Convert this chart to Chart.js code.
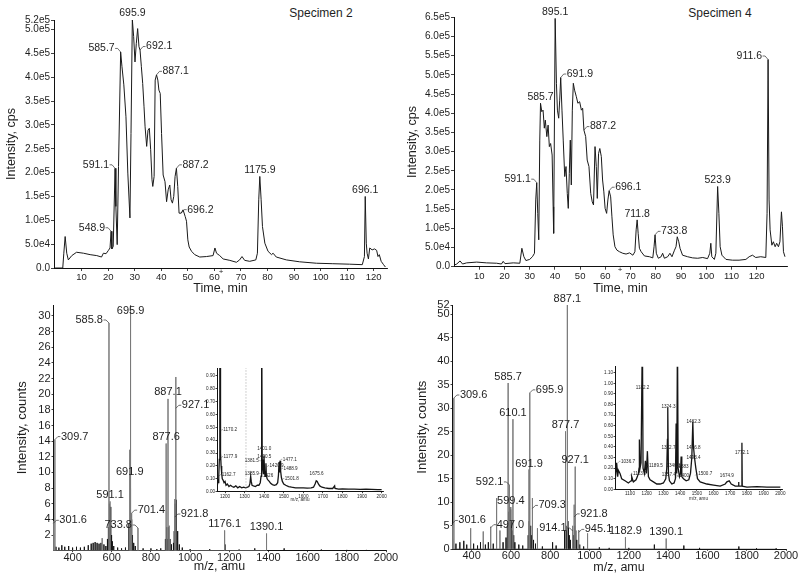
<!DOCTYPE html>
<html>
<head>
<meta charset="utf-8">
<script src="https://cdn.jsdelivr.net/npm/chart.js@4.4.1/dist/chart.umd.min.js"></script>
<style>
  html, body { margin: 0; padding: 0; background: #fff; }
  #fig { position: relative; width: 800px; height: 579px; overflow: hidden; background: #fff; }
  #fig canvas { position: absolute; }
  .spec { position: absolute; font: 12px "Liberation Sans", Arial, sans-serif; color: #1e1e1e; transform: translate(-50%, -50%); white-space: nowrap; }
</style>
</head>
<body>
<div id="fig">
  <div class="spec" style="left:321px;top:13px">Specimen 2</div>
  <div class="spec" style="left:720px;top:13px">Specimen 4</div>
</div>
<script>
// ============================================================
// DATA
// ============================================================

// Total ion chromatogram, specimen 2: [time min, intensity cps]
var chromA = [
  [0,0],[2.9,0],[3.3,0.31e5],[3.8,0.66e5],[4.4,0.31e5],[5.0,0.17e5],[6.3,0.26e5],[8.1,0.33e5],
  [10.7,0.31e5],[13.2,0.28e5],[15.7,0.26e5],[17.5,0.23e5],[18.2,0.31e5],[19.2,0.30e5],[20.1,0.37e5],
  [20.7,0.42e5],[21.1,0.77e5],[21.4,0.40e5],[21.9,0.45e5],[22.6,2.09e5],[22.9,1.29e5],[23.4,0.49e5],
  [23.9,2.13e5],[24.7,4.53e5],[25.2,4.22e5],[25.9,3.84e5],[26.7,3.17e5],[27.4,1.99e5],[28.2,1.05e5],
  [28.6,2.82e5],[29.1,5.21e5],[29.6,4.85e5],[30.1,4.32e5],[30.6,4.71e5],[31.1,5.02e5],[31.6,4.64e5],
  [32.0,4.57e5],[32.5,4.22e5],[33.0,3.87e5],[33.5,3.38e5],[33.9,2.96e5],[34.5,2.55e5],[35.0,2.89e5],
  [35.5,2.93e5],[36.0,2.48e5],[36.5,1.85e5],[36.8,1.71e5],[37.3,1.92e5],[37.7,3.94e5],[38.2,4.05e5],
  [38.7,3.94e5],[39.1,3.73e5],[39.6,3.66e5],[40.1,2.82e5],[40.7,1.95e5],[41.4,1.81e5],[42.0,1.39e5],
  [42.6,1.64e5],[43.2,1.74e5],[43.7,1.43e5],[44.2,1.36e5],[44.7,1.50e5],[45.2,1.92e5],[45.7,2.09e5],
  [46.2,1.71e5],[46.7,1.15e5],[47.5,1.15e5],[48.2,1.22e5],[49.0,1.08e5],[49.5,0.98e5],[50.0,0.59e5],
  [50.5,0.44e5],[51.4,0.35e5],[52.6,0.28e5],[54.5,0.23e5],[57.0,0.24e5],[59.5,0.26e5],[60.2,0.42e5],
  [60.8,0.31e5],[62.0,0.26e5],[63.3,0.19e5],[65.8,0.16e5],[68.3,0.12e5],[69.5,0.17e5],[70.4,0.24e5],
  [71.4,0.16e5],[73.3,0.14e5],[75.6,0.17e5],[76.2,0.31e5],[76.7,1.43e5],[77.1,1.92e5],[77.6,1.43e5],
  [78.1,0.87e5],[79.0,0.52e5],[80.2,0.35e5],[81.5,0.28e5],[82.1,0.31e5],[83.3,0.23e5],[87.1,0.17e5],
  [92.1,0.13e5],[98.4,0.10e5],[104.6,0.09e5],[110.9,0.08e5],[115.7,0.07e5],[116.5,0.24e5],[116.8,1.50e5],
  [117.2,0.52e5],[117.5,0.31e5],[118.0,0.19e5],[118.5,0.42e5],[119.4,0.38e5],[120.3,0.40e5],[121.1,0.37e5],
  [121.6,0.24e5],[122.1,0.28e5],[122.8,0.14e5],[123.7,0.07e5],[124.4,0.02e5]
];

// Total ion chromatogram, specimen 4: [time min, intensity cps]
var chromB = [
  [0,0.04e5],[1.1,0.07e5],[2.4,0.15e5],[3.4,0.07e5],[5.0,0.10e5],[9.0,0.12e5],[12.9,0.10e5],[16.9,0.09e5],
  [18.8,0.07e5],[19.5,0.14e5],[20.2,0.08e5],[23.5,0.10e5],[26.1,0.09e5],[26.9,0.48e5],[27.7,0.26e5],
  [28.5,0.16e5],[30.0,0.19e5],[31.1,0.26e5],[31.9,0.35e5],[32.4,1.74e5],[32.8,2.19e5],[33.2,1.39e5],
  [33.6,0.70e5],[34.0,3.30e5],[34.3,4.26e5],[34.8,4.04e5],[35.3,4.08e5],[35.8,3.61e5],[36.2,3.82e5],
  [36.8,3.39e5],[37.3,3.69e5],[37.8,3.13e5],[38.3,3.21e5],[38.9,2.91e5],[39.3,1.56e5],[39.5,0.87e5],
  [40.1,6.47e5],[40.6,4.78e5],[41.0,4.08e5],[41.5,3.87e5],[41.9,4.34e5],[42.3,4.93e5],[42.8,4.08e5],
  [43.3,3.30e5],[43.9,2.35e5],[44.4,2.61e5],[44.9,1.91e5],[45.3,1.52e5],[45.7,2.43e5],[46.1,3.30e5],
  [46.5,2.13e5],[46.9,4.08e5],[47.3,4.78e5],[47.8,4.60e5],[48.5,4.43e5],[49.1,4.26e5],[49.8,4.30e5],
  [50.5,4.08e5],[51.0,4.13e5],[51.5,3.56e5],[52.2,3.39e5],[52.8,2.78e5],[53.5,2.61e5],[54.2,1.91e5],
  [54.8,1.69e5],[55.3,1.61e5],[55.9,3.13e5],[56.4,2.61e5],[56.8,1.78e5],[57.3,2.95e5],[57.8,3.08e5],
  [58.4,2.87e5],[58.9,2.26e5],[59.4,1.95e5],[59.9,1.52e5],[60.5,1.39e5],[61.0,1.74e5],[61.5,1.98e5],
  [62.1,1.82e5],[62.6,1.30e5],[63.1,0.83e5],[63.8,0.52e5],[64.6,0.43e5],[65.6,0.39e5],[66.9,0.35e5],
  [68.2,0.33e5],[69.6,0.36e5],[70.9,0.30e5],[71.7,0.39e5],[72.2,0.96e5],[72.6,1.22e5],[73.0,0.87e5],
  [73.5,0.48e5],[74.2,0.39e5],[75.5,0.28e5],[77.5,0.26e5],[78.8,0.23e5],[79.3,0.52e5],[79.7,0.83e5],
  [80.2,0.35e5],[81.0,0.22e5],[82.1,0.26e5],[82.7,0.35e5],[83.4,0.22e5],[84.7,0.26e5],[85.6,0.35e5],
  [86.4,0.26e5],[87.4,0.43e5],[88.0,0.52e5],[88.5,0.78e5],[89.1,0.65e5],[89.6,0.48e5],[90.6,0.30e5],
  [92.6,0.26e5],[94.6,0.23e5],[96.6,0.22e5],[98.6,0.24e5],[100.5,0.21e5],[101.4,0.35e5],[101.8,0.61e5],
  [102.2,0.26e5],[103.2,0.19e5],[103.8,0.35e5],[104.5,2.09e5],[105.0,1.39e5],[105.5,0.52e5],[106.2,0.30e5],
  [107.8,0.19e5],[110.4,0.17e5],[113.0,0.17e5],[115.7,0.19e5],[117.0,0.26e5],[118.3,0.30e5],[119.6,0.24e5],
  [121.6,0.26e5],[123.6,0.24e5],[124.1,1.39e5],[124.5,5.40e5],[124.9,1.74e5],[125.3,0.96e5],[126.0,0.56e5],
  [126.6,0.65e5],[127.3,0.52e5],[127.9,0.61e5],[128.6,0.52e5],[129.2,0.65e5],[129.8,1.43e5],[130.2,1.04e5],
  [130.6,0.39e5],[131.2,0.26e5]
];

// Mass spectrum, specimen 2: [m/z, counts] — tall (grey) lines and low cluster/grass (black)
var specA_main = [
  [301.6,3.8],[309.7,14.2],[551,1.6],[585.8,29.1],[591.1,6.3],[691.9,12.9],[695.9,31.4],[701.4,4.8],
  [733.8,2.9],[877.6,13.7],[887.1,19.4],[893,3.2],[921.8,6.6],[927.1,22.2],[1176.1,2.6],[1390.1,2.2]
];
var specA_low = [
  [303,2.2],[315,0.5],[330,0.4],[345,0.7],[360,0.5],[380,0.6],[400,0.4],[420,0.5],[440,0.4],[460,0.5],
  [480,0.7],[495,0.9],[505,1.0],[515,1.1],[525,1.0],[535,0.9],[545,1.0],[560,0.8],[570,0.6],[578,1.5],
  [583,3.0],[587,6.0],[589,4.5],[593,5.6],[596,3.5],[599,2.0],[603,1.2],[610,0.6],[630,0.4],[650,0.3],
  [670,0.4],[688,3.5],[694,8.0],[697,7.0],[699,4.0],[703,3.0],[706,2.0],[712,1.0],[720,0.6],[760,0.3],
  [800,0.3],[830,0.2],[850,0.3],[874,1.5],[880,3.0],[884,1.5],[889,3.0],[897,1.5],[905,0.8],[915,1.0],
  [919,2.5],[924,6.0],[929,6.5],[931,4.0],[934,2.5],[938,1.5],[945,0.8],[960,0.4],[1000,0.2],[1100,0.2],
  [1178,0.8],[1250,0.15],[1330,0.3],[1480,0.3],[1670,0.15],[1800,0.1],[1900,0.1]
];

// Mass spectrum, specimen 4: [m/z, counts]
var specB_main = [
  [301.6,5.2],[309.6,32.2],[395,4.5],[459,3.8],[497,4.8],[527,10.9],[544,4.0],[585.7,35.4],[592.1,13.7],
  [599.4,9.0],[610.1,27.7],[691.9,17.0],[695.9,33.3],[709.3,10.9],[735,4.5],[877.7,25.1],[887.1,52.0],
  [914.1,5.0],[921.8,9.5],[927.1,17.6],[945.1,4.1],[990,3.4],[1182.9,2.6],[1390.1,2.3]
];
var specB_low = [
  [303,2.3],[320,1.2],[340,1.5],[360,1.8],[375,1.0],[410,1.2],[430,0.8],[445,1.5],[470,1.0],[485,1.5],
  [510,1.2],[560,1.5],[575,2.5],[582,5.0],[588,8.0],[590,6.0],[594,9.0],[596,7.0],[600,8.5],[603,6.0],
  [606,4.0],[614,3.0],[620,1.5],[640,1.0],[660,0.8],[688,3.0],[693,6.0],[698,5.0],[702,4.5],[706,3.0],
  [715,2.0],[725,1.2],[760,0.6],[812,1.5],[830,0.8],[873,4.0],[880,5.0],[884,4.0],[890,6.0],[893,4.5],
  [897,3.0],[903,2.0],[918,3.0],[924,5.0],[930,4.0],[935,2.0],[950,1.0],[970,0.6],[1050,0.4],[1100,0.3],
  [1200,0.3],[1330,1.0],[1480,0.8],[1560,0.3],[1760,0.6],[1850,0.2],[1950,0.2]
];

// Inset zoom of specimen 2 spectrum (m/z 1160–2000): [m/z, counts]
var insetA = [
  [1159,0.06],[1162,0.09],[1165,0.07],[1168,0.12],[1171,0.25],[1173,0.5],[1174,1.5],[1175,0.45],[1176,1.5],
  [1177,0.55],[1178,0.3],[1180,0.2],[1183,0.14],[1186,0.1],[1190,0.09],[1195,0.07],[1200,0.08],[1205,0.05],
  [1212,0.06],[1220,0.04],[1228,0.05],[1236,0.04],[1245,0.035],[1255,0.045],[1265,0.03],[1275,0.04],
  [1285,0.03],[1295,0.035],[1305,0.03],[1315,0.035],[1322,0.04],[1327,0.06],[1331,0.12],[1334,0.08],
  [1338,0.05],[1345,0.045],[1355,0.04],[1365,0.05],[1373,0.05],[1380,0.07],[1384,0.12],[1386,0.22],
  [1388,1.5],[1390,0.25],[1393,0.18],[1396,0.14],[1399,0.28],[1402,0.16],[1405,0.12],[1409,0.22],
  [1411,0.13],[1415,0.1],[1420,0.09],[1426,0.08],[1433,0.065],[1442,0.055],[1452,0.05],[1462,0.055],
  [1469,0.07],[1473,0.13],[1476,0.23],[1478,0.15],[1481,0.24],[1484,0.16],[1488,0.11],[1493,0.08],
  [1500,0.06],[1510,0.05],[1525,0.04],[1540,0.035],[1560,0.03],[1580,0.03],[1600,0.03],[1620,0.028],
  [1640,0.03],[1652,0.035],[1660,0.06],[1666,0.085],[1671,0.08],[1677,0.06],[1684,0.045],[1695,0.035],
  [1710,0.03],[1730,0.025],[1750,0.025],[1760,0.045],[1762,0.025],[1780,0.02],[1800,0.022],[1830,0.02],
  [1860,0.02],[1890,0.018],[1920,0.02],[1950,0.018],[1980,0.016],[2000,0.016]
];
var insetA_cut = 1307;   // dotted marker line in the inset

// Inset zoom of specimen 4 spectrum (m/z 1010–2000)
var insetB = [
  [1010,0.06],[1020,0.25],[1026,0.12],[1030,0.18],[1040,0.15],[1050,0.1],[1070,0.08],[1090,0.06],
  [1106,0.08],[1110,0.12],[1120,0.07],[1136,0.09],[1144,0.12],[1150,0.15],[1154,0.2],[1156,0.47],
  [1160,0.2],[1166,0.25],[1174,1.5],[1178,0.2],[1186,0.15],[1192,0.27],[1198,0.15],[1204,0.36],
  [1210,0.12],[1220,0.09],[1240,0.07],[1260,0.05],[1280,0.05],[1300,0.06],[1314,0.1],[1320,0.2],
  [1324,0.47],[1326,0.77],[1330,0.15],[1336,0.08],[1350,0.05],[1364,0.06],[1372,0.1],[1376,0.62],
  [1380,0.15],[1384,1.5],[1388,0.2],[1396,0.12],[1402,0.15],[1406,0.31],[1410,0.12],[1420,0.1],
  [1436,0.08],[1452,0.09],[1462,0.15],[1470,0.3],[1476,0.64],[1480,0.4],[1486,0.3],[1494,0.2],
  [1504,0.1],[1520,0.07],[1560,0.05],[1600,0.04],[1640,0.03],[1670,0.05],[1680,0.07],[1694,0.08],
  [1706,0.05],[1730,0.03],[1748,0.03],[1750,0.07],[1752,0.03],[1768,0.03],[1770,0.44],[1772,0.03],
  [1800,0.02],[1860,0.025],[1920,0.02],[2000,0.02]
];

// Peak annotations: [text, x, y at the point the label attaches to]
var labelsA = [
  ['695.9',29.1,5.21e5],['585.7',24.7,4.53e5],['692.1',32.0,4.57e5],['887.1',38.2,4.05e5],
  ['591.1',22.6,2.09e5],['887.2',45.7,2.09e5],['696.2',47.5,1.15e5],['548.9',21.1,0.77e5],
  ['1175.9',77.1,1.92e5],['696.1',116.8,1.50e5]
];
var sidesA = ['c','l','r','r','l','r','r','l','c','c'];

var labelsB = [
  ['895.1',40.1,6.47e5],['585.7',34.3,4.26e5],['691.9',42.3,4.93e5],['887.2',51.5,3.56e5],
  ['591.1',32.8,2.19e5],['696.1',61.5,1.98e5],['711.8',72.6,1.22e5],['733.8',79.7,0.83e5],
  ['523.9',104.5,2.09e5],['911.6',124.5,5.40e5]
];
var sidesB = ['c','c','r','r','l','r','c','r','c','l'];

var labelsC = [
  ['585.8',585.8,29.1],['695.9',695.9,29.8],['887.1',887.1,19.4],['927.1',927.1,18.2],
  ['877.6',877.6,13.7],['309.7',309.7,14.2],['691.9',691.9,9.2],['591.1',591.1,6.3],
  ['701.4',701.4,4.8],['921.8',921.8,4.3],['733.8',733.8,2.9],['301.6',301.6,3.5],
  ['1176.1',1176.1,2.6],['1390.1',1390.1,2.2]
];
var sidesC = ['l','c','c','r','c','r','c','c','r','r','l','r','c','c'];

var labelsD = [
  ['887.1',887.1,52],['585.7',585.7,35.4],['309.6',309.6,32.2],['695.9',695.9,33.3],
  ['610.1',610.1,27.7],['877.7',877.7,25.1],['927.1',927.1,17.6],['691.9',691.9,16.7],
  ['592.1',592.1,13.7],['599.4',599.4,8.8],['709.3',709.3,8.7],['921.8',921.8,6.9],
  ['301.6',301.6,5.5],['497.0',497.0,4.6],['914.1',914.1,3.9],['945.1',945.1,3.6],
  ['1182.9',1182.9,2.6],['1390.1',1390.1,2.3]
];
var sidesD = ['c','c','r','r','c','c','c','c','l','c','r','r','r','r','l','r','c','c'];

var labelsE = [
  ['1170.2',1176,0.47],['1177.9',1177,0.26],['1162.7',1168,0.12],['1381.5',1388,0.23],
  ['1385.9',1388,0.13],['1401.0',1400,0.31],['1400.5',1401,0.25],['1420.9',1412,0.19],
  ['1426',1420,0.10],['1477.1',1480,0.24],['1488.9',1484,0.17],['1501.8',1490,0.09],['1675.6',1668,0.12]
];
var sidesE = ['r','r','r','l','l','c','c','r','c','r','r','r','c'];

var labelsF = [
  ['1036.7',1028,0.25],['1123.7',1100,0.13],['1182.2',1175,0.93],['1189.5',1196,0.21],
  ['1324.3',1330,0.75],['1322.7',1330,0.37],['1346.1',1360,0.20],['1357.4',1392,0.12],
  ['1383',1372,0.20],['1400',1375,0.11],['1482.3',1480,0.61],['1476.8',1480,0.37],
  ['1493.4',1480,0.27],['1500.7',1490,0.13],['1674.9',1680,0.10],['1772.1',1770,0.32]
];
var sidesF = ['r','r','c','r','c','c','c','l','r','r','c','c','c','r','c','c'];

// Axis ticks and their labels
var timeTicks = [10,20,30,40,50,60,70,80,90,100,110,120];
var timeLabels = ['10','20','30','40','50','60','70','80','90','100','110','120'];
var cpsTicksA = [0,0.5e5,1e5,1.5e5,2e5,2.5e5,3e5,3.5e5,4e5,4.5e5,5e5,5.2e5];
var cpsLabelsA = ['0.0','5.0e4','1.0e5','1.5e5','2.0e5','2.5e5','3.0e5','3.5e5','4.0e5','4.5e5','5.0e5','5.2e5'];
var cpsTicksB = [0,0.5e5,1e5,1.5e5,2e5,2.5e5,3e5,3.5e5,4e5,4.5e5,5e5,5.5e5,6e5,6.5e5];
var cpsLabelsB = ['0.0','5.0e4','1.0e5','1.5e5','2.0e5','2.5e5','3.0e5','3.5e5','4.0e5','4.5e5','5.0e5','5.5e5','6.0e5','6.5e5'];
var mzTicks = [400,600,800,1000,1200,1400,1600,1800,2000];
var mzLabels = ['400','600','800','1000','1200','1400','1600','1800','2000'];
var countTicksC = [2,4,6,8,10,12,14,16,18,20,22,24,26,28,30];
var countLabelsC = ['2','4','6','8','10','12','14','16','18','20','22','24','26','28','30'];
var countTicksD = [0,5,10,15,20,25,30,35,40,45,50,52];
var countLabelsD = ['0','5','10','15','20','25','30','35','40','45','50','52'];
var insetTicksEx = [1200,1300,1400,1500,1600,1700,1800,1900,2000];
var insetLabelsEx = ['1200','1300','1400','1500','1600','1700','1800','1900','2000'];
var insetTicksEy = [0,0.1,0.2,0.3,0.4,0.5,0.6,0.7,0.8,0.9];
var insetLabelsEy = ['0.00','0.10','0.20','0.30','0.40','0.50','0.60','0.70','0.80','0.90'];
var insetTicksFx = [1100,1200,1300,1400,1500,1600,1700,1800,1900,2000];
var insetLabelsFx = ['1100','1200','1300','1400','1500','1600','1700','1800','1900','2000'];
var insetTicksFy = [0,0.1,0.2,0.3,0.4,0.5,0.6,0.7,0.8,0.9,1.0,1.1];
var insetLabelsFy = ['0.00','0.10','0.20','0.30','0.40','0.50','0.60','0.70','0.80','0.90','1.00','1.10'];

// small "+" marks under the time axes
var plusA = [62.5];
var plusB = [65.8];

// ============================================================
// HELPERS
// ============================================================

var FONT = '"Liberation Sans", Arial, Helvetica, sans-serif';
var INK = '#1e1e1e';

function toXY(list) {
  return list.map(function(p) { return { x: p[0], y: p[1] }; });
}

// vertical sticks joined along the baseline
function toSticks(list) {
  var pts = [];
  list.slice().sort(function(a, b) { return a[0] - b[0]; }).forEach(function(p) {
    pts.push({ x: p[0], y: 0 }, { x: p[0], y: p[1] }, { x: p[0], y: 0 });
  });
  return pts;
}

function lineSet(data, color, width, dash) {
  return { data: data, showLine: true, borderColor: color, borderWidth: width,
           borderDash: dash || [], pointRadius: 0, fill: false, tension: 0 };
}

function labelPlugin(items, sides, st) {
  return {
    id: 'peakLabels',
    afterDatasetsDraw: function(chart) {
      var ctx = chart.ctx, xs = chart.scales.x, ys = chart.scales.y;
      ctx.save();
      ctx.font = st.size + 'px ' + FONT;
      ctx.fillStyle = INK;
      ctx.strokeStyle = '#333';
      ctx.lineWidth = st.lw;
      items.forEach(function(it, i) {
        var px = xs.getPixelForValue(it[1]), py = ys.getPixelForValue(it[2]);
        var side = sides[i];
        if (side === 'c') {
          ctx.textAlign = 'center';
          ctx.textBaseline = 'bottom';
          ctx.fillText(it[0], px, py - st.lift);
        } else {
          var dir = side === 'l' ? -1 : 1;
          var ty = py - st.rise;
          ctx.textAlign = side === 'l' ? 'right' : 'left';
          ctx.textBaseline = 'middle';
          ctx.fillText(it[0], px + dir * st.gap, ty);
          ctx.beginPath();
          ctx.moveTo(px + dir * (st.gap - 0.5), ty);
          ctx.lineTo(px + dir * st.gap * 0.5, ty);
          ctx.lineTo(px, py);
          ctx.stroke();
        }
      });
      ctx.restore();
    }
  };
}

function plusPlugin(values) {
  return {
    id: 'plusMarks',
    afterDraw: function(chart) {
      var ctx = chart.ctx, xs = chart.scales.x;
      ctx.save();
      ctx.font = '8px ' + FONT;
      ctx.fillStyle = INK;
      ctx.textAlign = 'center';
      ctx.textBaseline = 'middle';
      values.forEach(function(v) {
        ctx.fillText('+', xs.getPixelForValue(v), chart.chartArea.bottom + 3.5);
      });
      ctx.restore();
    }
  };
}

function buildPanel(p) {
  var c = p.canvas, a = p.area;
  var cv = document.createElement('canvas');
  cv.width = c.w; cv.height = c.h;
  cv.style.left = c.x + 'px'; cv.style.top = c.y + 'px';
  cv.style.width = c.w + 'px'; cv.style.height = c.h + 'px';
  document.getElementById('fig').appendChild(cv);

  var yW = a.l - c.x, xH = c.y + c.h - a.b;
  var padTop = a.t - c.y, padRight = c.x + c.w - a.r;
  var xlh = p.xTitleSize * 1.2, ylh = (p.yTitleSize || 10) * 1.2;

  var plugins = [labelPlugin(p.labels, p.sides, p.labelStyle)];
  if (p.plus) plugins.push(plusPlugin(p.plus));

  return new Chart(cv, {
    type: 'scatter',
    data: { datasets: p.datasets },
    options: {
      responsive: false,
      animation: false,
      devicePixelRatio: 1,
      events: [],
      layout: { padding: { top: padTop, right: padRight, left: 0, bottom: 0 } },
      plugins: { legend: { display: false }, tooltip: { enabled: false } },
      scales: {
        x: {
          type: 'linear', min: p.xMin, max: p.xMax,
          afterFit: function(s) { s.height = xH; },
          afterBuildTicks: function(s) { s.ticks = p.xTicks.map(function(v) { return { value: v }; }); },
          ticks: { autoSkip: false, maxRotation: 0, minRotation: 0, padding: p.xTickPad, color: INK,
                   font: { family: FONT, size: p.xTickSize || p.tickSize },
                   callback: function(v, i) { return p.xLabels[i]; } },
          grid: { drawOnChartArea: false, drawTicks: true, tickLength: p.tickLen, color: '#111', lineWidth: 0.8 },
          border: { display: true, color: '#111', width: 1 },
          title: { display: true, text: p.xTitle, color: INK,
                   font: { family: FONT, size: p.xTitleSize },
                   padding: { top: 0, bottom: (c.y + c.h) - p.xTitleY - xlh / 2 } }
        },
        y: {
          type: 'linear', min: 0, max: p.yMax,
          afterFit: function(s) { s.width = yW; },
          afterBuildTicks: function(s) { s.ticks = p.yTicks.map(function(v) { return { value: v }; }); },
          ticks: { autoSkip: false, padding: p.yTickPad, color: INK,
                   font: { family: FONT, size: p.tickSize },
                   callback: function(v, i) { return p.yLabels[i]; } },
          grid: { drawOnChartArea: false, drawTicks: true, tickLength: p.tickLen, color: '#111', lineWidth: 0.8 },
          border: { display: true, color: '#111', width: 1 },
          title: { display: !!p.yTitle, text: p.yTitle || '', color: INK,
                   font: { family: FONT, size: p.yTitleSize || 10 },
                   padding: { top: (p.yTitleX || 0) - c.x - ylh / 2, bottom: 0 } }
        }
      }
    },
    plugins: plugins
  });
}

// ============================================================
// PANELS
// ============================================================

var chromLabelStyle = { size: 10.5, gap: 6, rise: 3.5, lift: 1, lw: 0.7 };
var specLabelStyle = { size: 11, gap: 6, rise: 3, lift: 1, lw: 0.7 };
var insetLabelStyle = { size: 4.6, gap: 3, rise: 1.5, lift: 0.5, lw: 0.4 };

buildPanel({
  canvas: { x: 0, y: 0, w: 400, h: 299 }, area: { l: 54, t: 20, r: 387, b: 268 },
  datasets: [lineSet(toXY(chromA), '#1a1a1a', 1)],
  xMin: -0.4, xMax: 125, xTicks: timeTicks, xLabels: timeLabels,
  yMax: 5.2e5, yTicks: cpsTicksA, yLabels: cpsLabelsA,
  tickSize: 10, xTickSize: 9.5, tickLen: 3, xTickPad: 1, yTickPad: 1,
  xTitle: 'Time, min', xTitleSize: 12.5, xTitleY: 289,
  yTitle: 'Intensity, cps', yTitleSize: 12.5, yTitleX: 12,
  labels: labelsA, sides: sidesA, labelStyle: chromLabelStyle, plus: plusA
});

buildPanel({
  canvas: { x: 400, y: 0, w: 400, h: 299 }, area: { l: 454, t: 17.3, r: 787, b: 266.7 },
  datasets: [lineSet(toXY(chromB), '#1a1a1a', 1)],
  xMin: 0, xMax: 132, xTicks: timeTicks, xLabels: timeLabels,
  yMax: 6.5e5, yTicks: cpsTicksB, yLabels: cpsLabelsB,
  tickSize: 10, xTickSize: 9.5, tickLen: 3, xTickPad: 1, yTickPad: 1,
  xTitle: 'Time, min', xTitleSize: 12.5, xTitleY: 288.5,
  yTitle: 'Intensity, cps', yTitleSize: 12.5, yTitleX: 413,
  labels: labelsB, sides: sidesB, labelStyle: chromLabelStyle, plus: plusB
});

buildPanel({
  canvas: { x: 0, y: 288, w: 400, h: 291 }, area: { l: 53, t: 305, r: 386, b: 550.7 },
  datasets: [lineSet(toSticks(specA_main), '#7a7a7a', 1), lineSet(toSticks(specA_low), '#151515', 1)],
  xMin: 300, xMax: 2000, xTicks: mzTicks, xLabels: mzLabels,
  yMax: 31.4, yTicks: countTicksC, yLabels: countLabelsC,
  tickSize: 11, tickLen: 1.5, xTickPad: -1, yTickPad: 1,
  xTitle: 'm/z, amu', xTitleSize: 12.5, xTitleY: 567,
  yTitle: 'Intensity, counts', yTitleSize: 13, yTitleX: 22,
  labels: labelsC, sides: sidesC, labelStyle: specLabelStyle
});

buildPanel({
  canvas: { x: 400, y: 288, w: 400, h: 291 }, area: { l: 452, t: 305, r: 786, b: 549.3 },
  datasets: [lineSet(toSticks(specB_main), '#7a7a7a', 1), lineSet(toSticks(specB_low), '#151515', 1)],
  xMin: 300, xMax: 2000, xTicks: mzTicks, xLabels: mzLabels,
  yMax: 52, yTicks: countTicksD, yLabels: countLabelsD,
  tickSize: 11, tickLen: 1.5, xTickPad: -1, yTickPad: 1,
  xTitle: 'm/z, amu', xTitleSize: 12.5, xTitleY: 568,
  yTitle: 'Intensity, counts', yTitleSize: 13, yTitleX: 422,
  labels: labelsD, sides: sidesD, labelStyle: specLabelStyle
});

buildPanel({
  canvas: { x: 200, y: 362, w: 195, h: 142 }, area: { l: 217, t: 368, r: 383, b: 491.7 },
  datasets: [
    lineSet([{ x: insetA_cut, y: 0 }, { x: insetA_cut, y: 0.96 }], '#9a9a9a', 0.6, [1.5, 1.5]),
    lineSet(toXY(insetA), '#151515', 1.3)
  ],
  xMin: 1159, xMax: 2007, xTicks: insetTicksEx, xLabels: insetLabelsEx,
  yMax: 0.96, yTicks: insetTicksEy, yLabels: insetLabelsEy,
  tickSize: 4.6, tickLen: 1.5, xTickPad: 0.5, yTickPad: 0.5,
  xTitle: 'm/z, amu', xTitleSize: 4.6, xTitleY: 500,
  labels: labelsE, sides: sidesE, labelStyle: insetLabelStyle
});

buildPanel({
  canvas: { x: 598, y: 360, w: 200, h: 142 }, area: { l: 615, t: 366.7, r: 782, b: 489.3 },
  datasets: [lineSet(toXY(insetB), '#151515', 1.3)],
  xMin: 1010, xMax: 2010, xTicks: insetTicksFx, xLabels: insetLabelsFx,
  yMax: 1.157, yTicks: insetTicksFy, yLabels: insetLabelsFy,
  tickSize: 4.6, tickLen: 1.5, xTickPad: 0.5, yTickPad: 0.5,
  xTitle: 'm/z, amu', xTitleSize: 4.6, xTitleY: 498.5,
  labels: labelsF, sides: sidesF, labelStyle: insetLabelStyle
});
</script>
</body>
</html>
